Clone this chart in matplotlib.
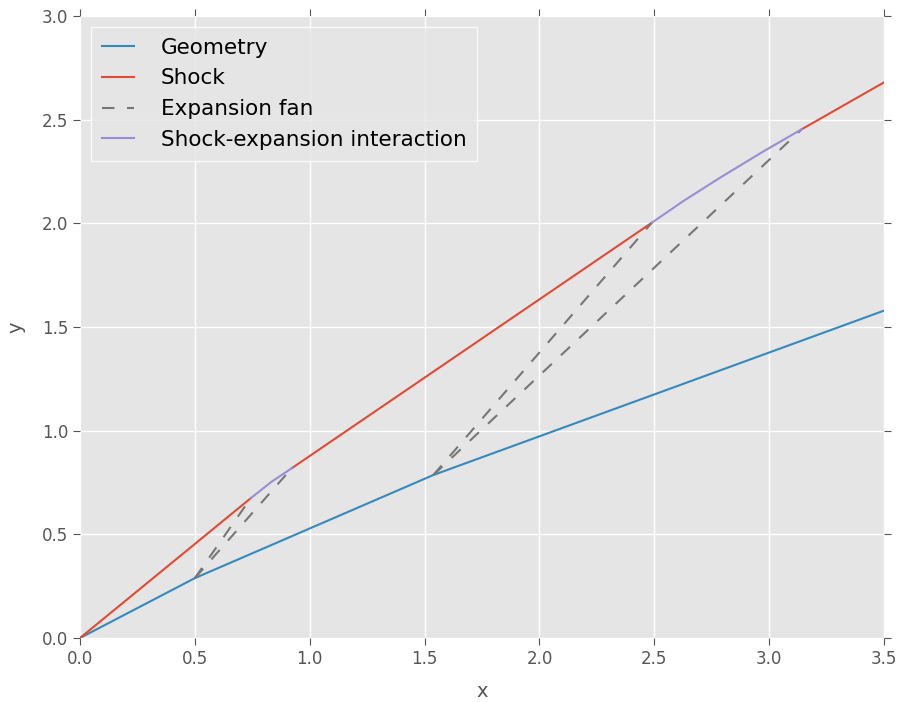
import numpy as np
import matplotlib
matplotlib.use('Agg')
import matplotlib.pyplot as plt

# wall geometry (corner points)
geom_x = [0.0, 0.5, 1.538, 3.5]
geom_y = [0.0, 0.2887, 0.786, 1.579]

# shock segments
shock1_x = [0.0, 0.743]
shock1_y = [0.0, 0.674]
shock2_x = [0.922, 2.489]
shock2_y = [0.819, 2.003]
shock3_x = [3.142, 3.5]
shock3_y = [2.454, 2.68]

# expansion fans: corner -> first and last characteristic hitting the shock
fan1_x = [[0.5, 0.743], [0.5, 0.922]]
fan1_y = [[0.2887, 0.674], [0.2887, 0.819]]
fan2_x = [[1.538, 2.489], [1.538, 3.142]]
fan2_y = [[0.786, 2.003], [0.786, 2.454]]

# shock-expansion interaction (curved shock parts)
inter1_x = [0.743, 0.8325, 0.922]
inter1_y = [0.674, 0.7525, 0.819]
inter2_x = [2.489, 2.627, 2.786, 2.975, 3.142]
inter2_y = [2.003, 2.108, 2.220, 2.347, 2.454]

c_geom = '#348ABD'
c_shock = '#E24A33'
c_fan = '#777777'
c_int = '#988ED5'

plt.rcParams['font.family'] = 'DejaVu Sans'
fig = plt.figure(figsize=(9.01, 7.02), dpi=100)
ax = fig.add_axes([0.0888, 0.0912, 0.8924, 0.886])
ax.set_facecolor('#E5E5E5')
for s in ax.spines.values():
    s.set_visible(False)
ax.grid(True, color='white', linewidth=1.0)
ax.set_axisbelow(True)

ax.plot(geom_x, geom_y, color=c_geom, lw=1.5, label='Geometry')
ax.plot(shock1_x, shock1_y, color=c_shock, lw=1.5, label='Shock')
ax.plot(shock2_x, shock2_y, color=c_shock, lw=1.5)
ax.plot(shock3_x, shock3_y, color=c_shock, lw=1.5)
first = True
for fx, fy in zip(fan1_x + fan2_x, fan1_y + fan2_y):
    ax.plot(fx, fy, color=c_fan, lw=1.5, ls=(0, (6, 6)),
            label='Expansion fan' if first else None)
    first = False
ax.plot(inter1_x, inter1_y, color=c_int, lw=1.5, label='Shock-expansion interaction')
ax.plot(inter2_x, inter2_y, color=c_int, lw=1.5)

ax.set_xlim(0, 3.5)
ax.set_ylim(0, 3.0)
ax.set_xticks(np.arange(0, 3.51, 0.5))
ax.set_yticks(np.arange(0, 3.01, 0.5))
ax.tick_params(direction='out', color='#555555', labelcolor='#555555',
               labelsize=12, length=5, top=True, right=True)
ax.set_xlabel('x', fontsize=14, color='#555555', labelpad=10)
ax.set_ylabel('y', fontsize=14, color='#555555', labelpad=12)

leg = ax.legend(loc='upper left', fontsize=15.5, frameon=True, fancybox=False,
                handlelength=1.5, handletextpad=1.25, borderpad=0.5,
                borderaxespad=0.5)
leg.get_frame().set_facecolor('#E5E5E5')
leg.get_frame().set_edgecolor('white')

fig.savefig('out.png', dpi=100)
